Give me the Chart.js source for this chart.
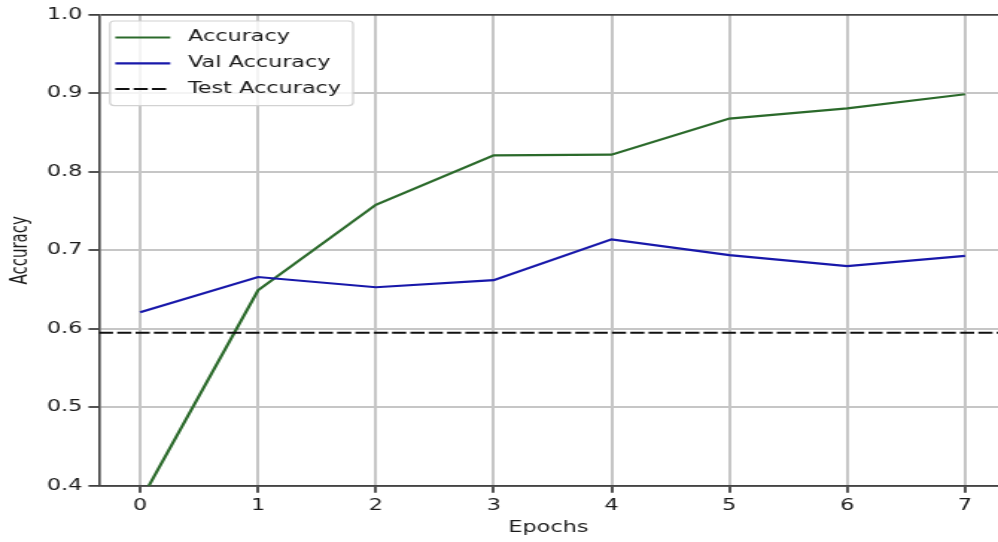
<!DOCTYPE html>
<html>
<head>
<meta charset="utf-8">
<title>Training accuracy per epoch</title>
<script src="https://cdn.jsdelivr.net/npm/chart.js@4.4.1/dist/chart.umd.min.js"></script>
<style>
  html, body { margin: 0; padding: 0; background: #ffffff; overflow: hidden; }
</style>
</head>
<body>
<!-- the canvas is drawn 670 wide and shown 998 wide, so everything is widened horizontally -->
<canvas id="c" width="670" height="542" style="display:block;width:998px;height:542px"></canvas>
<script>
// ---- data ----
const epochs = [0, 1, 2, 3, 4, 5, 6, 7];
const accuracy = [0.380, 0.649, 0.758, 0.821, 0.822, 0.868, 0.881, 0.899];
const valAccuracy = [0.621, 0.666, 0.653, 0.662, 0.714, 0.694, 0.680, 0.693];
const testAccuracy = 0.595;

const xTicks = [0, 1, 2, 3, 4, 5, 6, 7];
const yTicks = [0.4, 0.5, 0.6, 0.7, 0.8, 0.9, 1.0];
const seriesNames = ['Accuracy', 'Val Accuracy', 'Test Accuracy'];
const xTitle = 'Epochs';
const yTitle = 'Accuracy';

// ---- axis limits ----
const xMin = -0.35, xMax = 7.28;
const yMin = 0.4, yMax = 1.0;

// ---- styling ----
const FONT = 'DejaVu Sans';
const GREEN = '#2b6a2b';
const BLUE = '#1818aa';
const BLACK = '#111111';
const GRID = '#c6c6c6';
const SPINE = '#444444';
const TEXT = '#1a1a1a';

Chart.defaults.font.family = FONT;
Chart.defaults.font.size = 15;
Chart.defaults.color = TEXT;

const pts = (xs, ys) => xs.map((x, i) => ({ x: x, y: ys[i] }));

// white page behind the plot
const whiteBackground = {
  id: 'whiteBackground',
  beforeDraw(chart) {
    const ctx = chart.ctx;
    ctx.save();
    ctx.fillStyle = '#ffffff';
    ctx.fillRect(0, 0, chart.width, chart.height);
    ctx.restore();
  }
};

// framed legend in the upper-left corner of the plot area
const framedLegend = {
  id: 'framedLegend',
  afterDraw(chart) {
    const ctx = chart.ctx;
    const area = chart.chartArea;
    const boxX = area.left + 7.4;
    const boxY = area.top + 6;
    const sampleX0 = boxX + 3.6;
    const sampleX1 = boxX + 40.5;
    const textX = boxX + 52.4;
    const rowGap = 25.8;
    const firstRow = 16.5;

    ctx.save();
    ctx.font = '15px "' + FONT + '"';
    const labels = chart.data.datasets.map(d => d.label);
    const maxText = Math.max(...labels.map(t => ctx.measureText(t).width));
    const boxW = textX - boxX + maxText + 8;
    const boxH = firstRow * 2 + rowGap * (labels.length - 1);

    // frame
    ctx.beginPath();
    ctx.roundRect(boxX, boxY, boxW, boxH, 3);
    ctx.fillStyle = 'rgba(255,255,255,0.8)';
    ctx.fill();
    ctx.lineWidth = 1.2;
    ctx.strokeStyle = '#d2d2d2';
    ctx.stroke();

    // rows
    chart.data.datasets.forEach((ds, i) => {
      const y = boxY + firstRow + i * rowGap;
      ctx.beginPath();
      ctx.setLineDash(ds.borderDash || []);
      ctx.lineWidth = ds.borderWidth;
      ctx.strokeStyle = ds.borderColor;
      ctx.moveTo(sampleX0, y);
      ctx.lineTo(sampleX1, y);
      ctx.stroke();
      ctx.setLineDash([]);
      ctx.fillStyle = TEXT;
      ctx.textAlign = 'left';
      ctx.textBaseline = 'middle';
      ctx.fillText(ds.label, textX, y);
    });
    ctx.restore();
  }
};

const isAt = (v, target) => Math.abs(v - target) < 1e-9;
const isEdge = ctx => ctx.tick && (isAt(ctx.tick.value, yMax) || isAt(ctx.tick.value, yMin));

new Chart(document.getElementById('c'), {
  type: 'line',
  data: {
    datasets: [
      {
        label: seriesNames[0],
        data: pts(epochs, accuracy),
        borderColor: GREEN,
        backgroundColor: GREEN,
        borderWidth: 2.2,
        pointRadius: 0,
        tension: 0,
        order: 2
      },
      {
        label: seriesNames[1],
        data: pts(epochs, valAccuracy),
        borderColor: BLUE,
        backgroundColor: BLUE,
        borderWidth: 2.2,
        pointRadius: 0,
        tension: 0,
        order: 1
      },
      {
        label: seriesNames[2],
        data: [{ x: xMin, y: testAccuracy }, { x: xMax, y: testAccuracy }],
        borderColor: BLACK,
        backgroundColor: BLACK,
        borderWidth: 2,
        borderDash: [9.5, 2.8],
        pointRadius: 0,
        tension: 0,
        order: 0
      }
    ]
  },
  options: {
    responsive: false,
    maintainAspectRatio: false,
    devicePixelRatio: 1,
    animation: false,
    events: [],
    layout: { padding: { top: 15, left: 0, right: 0, bottom: 0 } },
    plugins: {
      legend: { display: false },
      tooltip: { enabled: false },
      title: { display: false }
    },
    scales: {
      x: {
        type: 'linear',
        position: 'bottom',
        min: xMin,
        max: xMax,
        afterBuildTicks(scale) { scale.ticks = xTicks.map(v => ({ value: v })); },
        afterFit(scale) { scale.height = 56.3; },
        ticks: {
          autoSkip: false,
          maxRotation: 0,
          padding: 4,
          color: TEXT,
          font: { size: 15 },
          callback: v => String(v)
        },
        grid: {
          color: GRID,
          lineWidth: 2,
          drawTicks: true,
          tickLength: 7,
          tickColor: '#2a2a2a',
          tickWidth: 1.6
        },
        border: { display: true, color: SPINE, width: 1.6 },
        title: {
          display: true,
          text: xTitle,
          color: TEXT,
          font: { size: 15 },
          padding: { top: 0, bottom: 5 }
        }
      },
      y: {
        type: 'linear',
        position: 'left',
        min: yMin,
        max: yMax,
        afterBuildTicks(scale) { scale.ticks = yTicks.map(v => ({ value: v })); },
        afterFit(scale) { scale.width = 66.4; },
        ticks: {
          padding: 4,
          color: TEXT,
          font: { size: 15 },
          callback: v => Number(v).toFixed(1)
        },
        grid: {
          color: ctx => isEdge(ctx) ? SPINE : GRID,
          lineWidth: ctx => isEdge(ctx) ? 1.8 : 2,
          drawTicks: true,
          tickLength: 7,
          tickColor: '#2a2a2a',
          tickWidth: 1.6
        },
        border: { display: true, color: SPINE, width: 1.6 },
        title: {
          display: true,
          text: yTitle,
          color: TEXT,
          font: { size: 15 },
          padding: { top: 5, bottom: 0 }
        }
      }
    }
  },
  plugins: [whiteBackground, framedLegend]
});
</script>
</body>
</html>
